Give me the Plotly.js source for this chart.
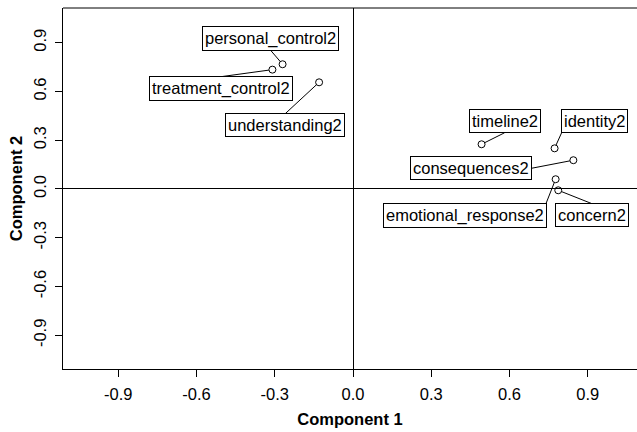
<!DOCTYPE html>
<html>
<head>
<meta charset="utf-8">
<script src="https://cdn.plot.ly/plotly-3.0.1.min.js"></script>
<style>
  html, body { margin: 0; padding: 0; background: #ffffff; }
  #chart { width: 637px; height: 432px; }
</style>
</head>
<body>
<div id="chart"></div>
<script>
// Loadings of each item on the first two components
const variables = ['personal_control2', 'treatment_control2', 'understanding2', 'timeline2',
                   'identity2', 'consequences2', 'emotional_response2', 'concern2'];
const component1 = [-0.270, -0.309, -0.130, 0.493, 0.773, 0.845, 0.777, 0.787];
const component2 = [0.767, 0.734, 0.656, 0.275, 0.250, 0.177, 0.060, -0.008];

const tickValues = [-0.9, -0.6, -0.3, 0, 0.3, 0.6, 0.9];
const tickLabels = ['-0.9', '-0.6', '-0.3', '0.0', '0.3', '0.6', '0.9'];

// Label placement: offset of each box centre from its point (px, y pointing down)
const labelShift = [[-12, -26], [-51, 19], [-34, 43], [23, -23],
                    [40, -27], [-102, 8], [-91, 36], [34, 25]];
// Point on the box the leader line leaves from, as fractions of the half size (x right, y down)
const leaderAnchor = [[0, 1], [0, -1], [0, -1], [0, 1],
                      [-1, 1], [1, 0], [1, -1], [0, -1]];

const FONT = 'Liberation Sans, Arial, Helvetica, sans-serif';
const FS = 16.5;
const markerRadius = 3.5;

const trace = {
  type: 'scatter',
  mode: 'markers',
  x: component1,
  y: component2,
  text: variables,
  hoverinfo: 'text',
  marker: { symbol: 'circle-open', size: 7, color: '#000', line: { width: 1, color: '#000' } },
  showlegend: false
};

const annotations = variables.map(function (name, i) {
  return {
    x: component1[i], y: component2[i], xref: 'x', yref: 'y',
    text: name, showarrow: false,
    xanchor: 'center', yanchor: 'middle',
    xshift: labelShift[i][0], yshift: -labelShift[i][1],
    font: { family: FONT, size: FS, color: '#000' },
    bgcolor: '#ffffff', bordercolor: '#000', borderwidth: 1, borderpad: 2
  };
});

const frameTop = {
  type: 'line', xref: 'paper', yref: 'paper', x0: 0, x1: 1, y0: 1, y1: 1,
  line: { color: '#000', width: 1 }
};

const axisCommon = {
  tickvals: tickValues, ticktext: tickLabels,
  ticks: 'outside', ticklen: 7, tickwidth: 1, tickcolor: '#000',
  showline: true, linecolor: '#000', linewidth: 1, mirror: false,
  showgrid: false, zeroline: true, zerolinecolor: '#000', zerolinewidth: 1,
  tickfont: { family: FONT, size: FS, color: '#000' },
  fixedrange: true
};

const layout = {
  width: 637, height: 432,
  margin: { l: 63, r: 0, t: 8, b: 63, pad: 0 },
  paper_bgcolor: '#ffffff', plot_bgcolor: '#ffffff',
  xaxis: Object.assign({}, axisCommon, {
    range: [-1.112, 1.089],
    ticklabelstandoff: 3,
    title: { text: '<b>Component 1</b>', font: { family: FONT, size: FS, color: '#000' }, standoff: 11 }
  }),
  yaxis: Object.assign({}, axisCommon, {
    range: [-1.107, 1.113],
    tickangle: -90,
    ticklabelstandoff: 2,
    title: { text: '<b>Component 2</b>', font: { family: FONT, size: FS, color: '#000' }, standoff: 4 }
  }),
  annotations: annotations,
  shapes: [frameTop]
};

const gd = document.getElementById('chart');
Plotly.newPlot(gd, [trace], layout, { staticPlot: true, displayModeBar: false }).then(function () {
  const xa = gd._fullLayout.xaxis;
  const ya = gd._fullLayout.yaxis;
  const groups = gd.querySelectorAll('g.annotation');
  const leaders = [];
  groups.forEach(function (g) {
    const i = +g.getAttribute('data-index');
    if (isNaN(i) || i >= variables.length) return;
    const bg = g.querySelector('rect.bg');
    if (!bg) return;
    const hw = (+bg.getAttribute('width')) / 2;
    const hh = (+bg.getAttribute('height')) / 2;
    const px = xa.l2p(component1[i]);
    const py = ya.l2p(component2[i]);
    const cx = px + labelShift[i][0];
    const cy = py + labelShift[i][1];
    const ex = cx + leaderAnchor[i][0] * hw;
    const ey = cy + leaderAnchor[i][1] * hh;
    const dx = ex - px, dy = ey - py;
    const len = Math.sqrt(dx * dx + dy * dy) || 1;
    const sx = px + dx / len * markerRadius;
    const sy = py + dy / len * markerRadius;
    leaders.push({
      type: 'line', xref: 'x', yref: 'y',
      x0: xa.p2l(sx), y0: ya.p2l(sy), x1: xa.p2l(ex), y1: ya.p2l(ey),
      line: { color: '#000', width: 1 }
    });
  });
  return Plotly.relayout(gd, { shapes: [frameTop].concat(leaders) });
});
</script>
</body>
</html>
